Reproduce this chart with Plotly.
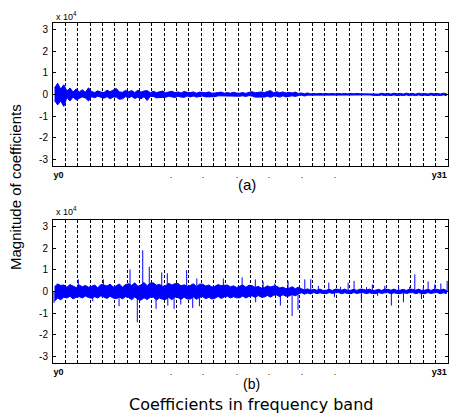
import plotly.graph_objects as go

W, H = 450, 413
BANDS = 32
band_edges = list(range(1, BANDS))

# Coefficient envelopes (x10^4): four columns per frequency band, upper / lower extremes
a_upper = [
    0.30, 0.52, 0.25, 0.45,  0.16, 0.30, 0.12, 0.26,  0.12, 0.22, 0.10, 0.31,  0.14, 0.09, 0.17, 0.11,
    0.09, 0.20, 0.13, 0.22,  0.28, 0.12, 0.10, 0.19,  0.13, 0.18, 0.09, 0.20,  0.11, 0.16, 0.18, 0.08,
    0.15, 0.09, 0.11, 0.16,  0.08, 0.13, 0.15, 0.09,  0.12, 0.07, 0.14, 0.10,  0.09, 0.12, 0.06, 0.11,
    0.11, 0.08, 0.12, 0.06,  0.07, 0.10, 0.11, 0.06,  0.09, 0.06, 0.10, 0.07,  0.06, 0.09, 0.05, 0.10,
    0.13, 0.08, 0.10, 0.12,  0.09, 0.14, 0.18, 0.08,  0.13, 0.08, 0.12, 0.07,  0.10, 0.07, 0.11, 0.05,
    0.07, 0.04, 0.07, 0.03,  0.05, 0.03, 0.05, 0.03,  0.05, 0.03, 0.05, 0.03,  0.05, 0.03, 0.05, 0.03,
    0.05, 0.03, 0.05, 0.03,  0.03, 0.02, 0.02, 0.02,  0.05, 0.02, 0.06, 0.03,  0.05, 0.02, 0.06, 0.03,
    0.05, 0.02, 0.06, 0.03,  0.05, 0.02, 0.06, 0.03,  0.05, 0.02, 0.06, 0.03,  0.05, 0.02, 0.06, 0.03,
]
a_lower = [
    -0.28, -0.48, -0.30, -0.55,  -0.14, -0.30, -0.12, -0.25,  -0.20, -0.11, -0.16, -0.30,  -0.10, -0.15, -0.08, -0.14,
    -0.17, -0.10, -0.20, -0.12,  -0.12, -0.22, -0.20, -0.10,  -0.15, -0.09, -0.18, -0.13,  -0.20, -0.10, -0.28, -0.09,
    -0.09, -0.15, -0.12, -0.14,  -0.13, -0.08, -0.11, -0.14,  -0.08, -0.12, -0.13, -0.07,  -0.11, -0.07, -0.12, -0.09,
    -0.07, -0.11, -0.08, -0.10,  -0.10, -0.06, -0.09, -0.08,  -0.06, -0.09, -0.07, -0.08,  -0.08, -0.06, -0.09, -0.05,
    -0.07, -0.12, -0.10, -0.11,  -0.12, -0.08, -0.13, -0.07,  -0.08, -0.12, -0.06, -0.11,  -0.10, -0.06, -0.09, -0.05,
    -0.03, -0.07, -0.03, -0.05,  -0.03, -0.05, -0.03, -0.05,  -0.03, -0.05, -0.03, -0.05,  -0.03, -0.05, -0.03, -0.05,
    -0.03, -0.05, -0.03, -0.05,  -0.02, -0.02, -0.02, -0.02,  -0.03, -0.05, -0.02, -0.05,  -0.03, -0.05, -0.02, -0.05,
    -0.03, -0.05, -0.02, -0.05,  -0.03, -0.05, -0.02, -0.05,  -0.03, -0.05, -0.02, -0.05,  -0.03, -0.05, -0.02, -0.05,
]

b_upper = [
    0.22, 0.35, 0.28, 0.30,  0.20, 0.32, 0.25, 0.18,  0.30, 0.22, 0.28, 0.20,  0.24, 0.30, 0.17, 0.32,
    0.30, 0.25, 0.34, 0.21,  0.26, 0.35, 0.20, 0.32,  0.36, 0.28, 0.40, 0.24,  0.30, 0.42, 0.27, 0.38,
    0.40, 0.29, 0.33, 0.24,  0.27, 0.38, 0.30, 0.36,  0.37, 0.26, 0.31, 0.24,  0.28, 0.36, 0.23, 0.34,
    0.34, 0.25, 0.30, 0.21,  0.24, 0.32, 0.27, 0.30,  0.30, 0.22, 0.26, 0.19,  0.23, 0.30, 0.20, 0.29,
    0.27, 0.19, 0.24, 0.16,  0.18, 0.26, 0.21, 0.25,  0.24, 0.16, 0.20, 0.13,  0.15, 0.22, 0.13, 0.20,
    0.13, 0.07, 0.12, 0.06,  0.10, 0.06, 0.11, 0.05,  0.06, 0.10, 0.05, 0.11,  0.10, 0.06, 0.11, 0.05,
    0.06, 0.10, 0.05, 0.11,  0.10, 0.06, 0.11, 0.05,  0.06, 0.10, 0.05, 0.11,  0.10, 0.06, 0.11, 0.05,
    0.06, 0.10, 0.05, 0.11,  0.10, 0.06, 0.11, 0.05,  0.06, 0.10, 0.05, 0.11,  0.10, 0.06, 0.11, 0.05,
]
b_lower = [
    -0.45, -0.30, -0.38, -0.26,  -0.30, -0.22, -0.34, -0.27,  -0.24, -0.30, -0.21, -0.28,  -0.31, -0.24, -0.30, -0.20,
    -0.25, -0.32, -0.22, -0.30,  -0.33, -0.26, -0.34, -0.24,  -0.28, -0.38, -0.25, -0.36,  -0.40, -0.29, -0.37, -0.27,
    -0.26, -0.39, -0.30, -0.36,  -0.37, -0.27, -0.38, -0.25,  -0.28, -0.36, -0.26, -0.35,  -0.35, -0.25, -0.36, -0.27,
    -0.24, -0.33, -0.27, -0.35,  -0.31, -0.23, -0.32, -0.25,  -0.22, -0.30, -0.24, -0.29,  -0.29, -0.21, -0.30, -0.23,
    -0.20, -0.27, -0.19, -0.26,  -0.25, -0.18, -0.26, -0.17,  -0.16, -0.24, -0.15, -0.22,  -0.21, -0.14, -0.20, -0.12,
    -0.06, -0.12, -0.07, -0.11,  -0.05, -0.10, -0.06, -0.09,  -0.10, -0.05, -0.09, -0.06,  -0.05, -0.10, -0.06, -0.09,
    -0.10, -0.05, -0.09, -0.06,  -0.05, -0.10, -0.06, -0.09,  -0.10, -0.05, -0.09, -0.06,  -0.05, -0.10, -0.06, -0.09,
    -0.10, -0.05, -0.09, -0.06,  -0.05, -0.10, -0.06, -0.09,  -0.10, -0.05, -0.09, -0.06,  -0.05, -0.10, -0.06, -0.09,
]

# Isolated large coefficients in (b): position (band units) and value (x10^4)
b_spike_pos = [0.08, 2.05, 3.22, 4.08, 5.35, 6.24, 6.83, 7.27, 7.80, 8.35, 8.81, 9.26, 9.30, 9.81,
               10.35, 10.83, 11.32, 11.65, 11.86, 13.80, 15.32, 15.88, 16.39, 16.42, 17.02, 17.97,
               18.42, 19.04, 19.37, 19.85, 20.40, 20.88, 21.50, 22.34, 22.80, 23.30, 23.91, 24.39,
               24.98, 25.40, 25.87, 26.30, 26.88, 27.41, 28.00, 28.39, 28.90, 29.31, 29.85, 30.00,
               30.39, 30.93, 31.42, 31.93]
b_spike_val = [-0.53, 0.56, -0.45, 0.56, -0.68, 1.02, -1.42, 1.90, 1.14, -0.80, 0.88, 0.84, -0.65, -0.80,
               -0.60, 0.99, -0.76, 0.60, -0.68, 0.60, 0.65, 0.30, 0.56, -0.50, 0.46, 0.37,
               -0.65, 0.49, -1.13, -0.85, 0.56, 0.56, 0.25, 0.41, -0.25, 0.22, 0.41, 0.49,
               -0.43, 0.20, 0.33, -0.20, 0.26, -0.65, 0.25, -0.50, 0.22, 0.79, -0.35, 0.20,
               0.46, 0.33, 0.37, 0.49]

y_ticks = [-3, -2, -1, 0, 1, 2, 3]
y_ticktext = ["-3", "-2", "-1", "0", "1", "2", "3"]
x_tickvals = [0.45, 9.56, 12.16, 14.91, 17.50, 20.18, 22.85, 31.3]
x_ticktext = ["<b>y0</b>", ".", ".", ".", ".", ".", ".", "<b>y31</b>"]

BLUE = "#0000ff"
FONT = "Liberation Sans, Arial, sans-serif"


def envelope(upper, lower):
    """Closed outline of the coefficient band: upper edge left-to-right, lower edge back."""
    cols = len(upper) // BANDS
    xs = [(i + 0.5) / cols for i in range(len(upper))]
    return xs + xs[::-1], list(upper) + list(lower)[::-1]


def spikes(pos, val):
    xs, ys = [], []
    for p, v in zip(pos, val):
        xs += [p, p, None]
        ys += [0, v, None]
    return xs, ys


fig = go.Figure()
ax, ay = envelope(a_upper, a_lower)
fig.add_trace(go.Scatter(x=ax, y=ay, mode="lines", fill="toself", fillcolor=BLUE,
                         line=dict(color=BLUE, width=1), xaxis="x", yaxis="y", hoverinfo="skip"))
bx, by = envelope(b_upper, b_lower)
fig.add_trace(go.Scatter(x=bx, y=by, mode="lines", fill="toself", fillcolor=BLUE,
                         line=dict(color=BLUE, width=1), xaxis="x2", yaxis="y2", hoverinfo="skip"))
sx, sy = spikes(b_spike_pos, b_spike_val)
fig.add_trace(go.Scatter(x=sx, y=sy, mode="lines", line=dict(color=BLUE, width=1),
                         xaxis="x2", yaxis="y2", hoverinfo="skip"))


def px_x(p):
    return p / W


def px_y(p):
    return 1 - p / H


xdom = [px_x(53), px_x(448)]

xaxis_common = dict(
    range=[0, BANDS], domain=xdom, showline=True, linecolor="black", linewidth=1, mirror=True,
    showgrid=False, zeroline=False, ticks="", tickmode="array", tickvals=x_tickvals,
    ticktext=x_ticktext, tickfont=dict(family=FONT, size=9, color="black"), ticklabelstandoff=0,
    minor=dict(tickmode="array", tickvals=band_edges, showgrid=True, gridcolor="black",
               griddash="3px,2px", gridwidth=1, ticks=""),
)
yaxis_common = dict(
    range=[-3.3, 3.3], showline=True, linecolor="black", linewidth=1, mirror="ticks",
    showgrid=False, zeroline=False, ticks="inside", ticklen=3, tickcolor="black",
    tickmode="array", tickvals=y_ticks, ticktext=y_ticktext,
    tickfont=dict(family=FONT, size=10, color="black"), ticklabelstandoff=2,
)

fig.update_layout(
    width=W, height=H, autosize=False,
    margin=dict(l=0, r=0, t=0, b=0),
    paper_bgcolor="white", plot_bgcolor="white", showlegend=False,
    xaxis=dict(xaxis_common, anchor="y"),
    yaxis=dict(yaxis_common, domain=[px_y(166), px_y(23)], anchor="x"),
    xaxis2=dict(xaxis_common, anchor="y2"),
    yaxis2=dict(yaxis_common, domain=[px_y(363), px_y(220)], anchor="x2"),
)

ann_font = dict(family=FONT, color="black")
annotations = [
    dict(text="x 10<sup>4</sup>", x=px_x(54), y=px_y(16), xanchor="left", yanchor="middle",
         font=dict(ann_font, size=9)),
    dict(text="x 10<sup>4</sup>", x=px_x(54), y=px_y(211), xanchor="left", yanchor="middle",
         font=dict(ann_font, size=9)),
    dict(text="(a)", x=px_x(247), y=px_y(184), xanchor="center", yanchor="middle",
         font=dict(ann_font, size=15)),
    dict(text="(b)", x=px_x(251), y=px_y(384), xanchor="center", yanchor="middle",
         font=dict(ann_font, size=14)),
    dict(text="Coefficients in frequency band", x=px_x(251), y=px_y(404), xanchor="center",
         yanchor="middle", font=dict(family="DejaVu Sans, sans-serif", color="black", size=16)),
    dict(text="Magnitude of coefficients", x=px_x(15), y=px_y(187), xanchor="center",
         yanchor="middle", textangle=-90, font=dict(ann_font, size=15)),
]
for a in annotations:
    a.update(xref="paper", yref="paper", showarrow=False)
fig.update_layout(annotations=annotations)

fig.write_html("out.html")
